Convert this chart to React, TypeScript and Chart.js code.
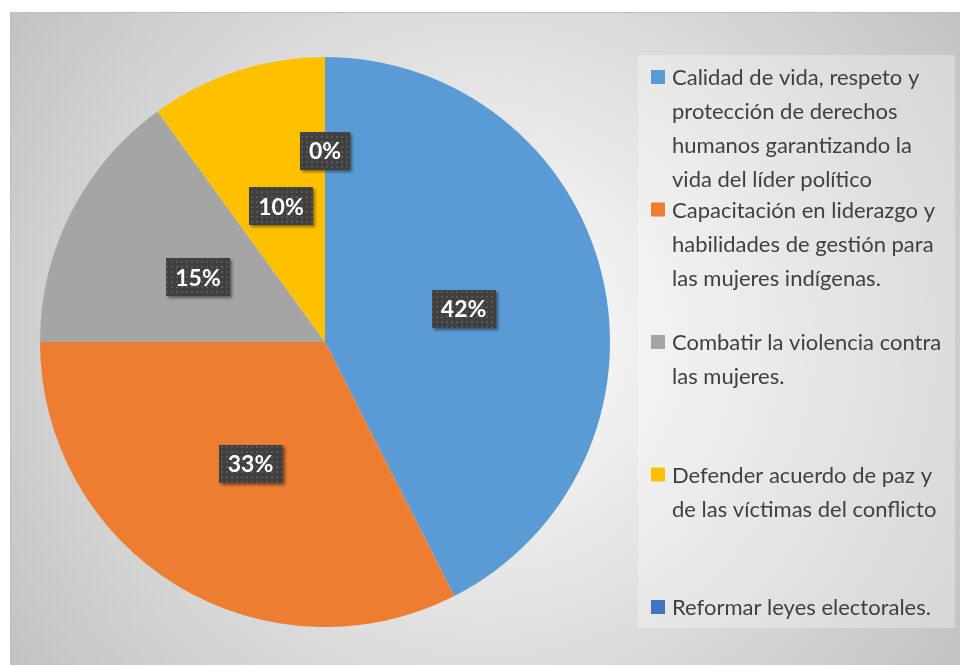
import React, { useEffect, useRef } from "react";
import { Chart, ArcElement, PieController } from "chart.js";

Chart.register(ArcElement, PieController);

const categories: string[][] = [
  ["Calidad de vida, respeto y", "protección de derechos", "humanos garantizando la", "vida del líder político"],
  ["Capacitación en liderazgo y", "habilidades de gestión para", "las mujeres indígenas."],
  ["Combatir la violencia contra", "las mujeres."],
  ["Defender acuerdo de paz y", "de las víctimas del conflicto"],
  ["Reformar leyes electorales."],
];
const values = [42.5, 32.5, 15, 10, 0];
const percentLabels = ["42%", "33%", "15%", "10%", "0%"];
const colors = ["#5B9BD5", "#ED7D31", "#A5A5A5", "#FFC000", "#4472C4"];

const W = 960;
const H = 665;
const FONT = "Lato, 'Open Sans', sans-serif";

function makePattern(ctx: CanvasRenderingContext2D) {
  const c = document.createElement("canvas");
  c.width = 5;
  c.height = 5;
  const p = c.getContext("2d")!;
  p.fillStyle = "#404040";
  p.fillRect(0, 0, 5, 5);
  p.fillStyle = "#575757";
  p.fillRect(1, 1, 2, 2);
  return ctx.createPattern(c, "repeat")!;
}

const backgroundPlugin = {
  id: "bg",
  beforeDraw(chart: any) {
    const ctx: CanvasRenderingContext2D = chart.ctx;
    ctx.save();
    ctx.fillStyle = "#ffffff";
    ctx.fillRect(0, 0, W, H);
    const x0 = 10, y0 = 12, x1 = W, y1 = H;
    const cx = (x0 + x1) / 2, cy = (y0 + y1) / 2;
    const g = ctx.createRadialGradient(cx, cy, 0, cx, cy, Math.hypot(cx - x0, cy - y0));
    g.addColorStop(0, "#ffffff");
    g.addColorStop(1, "#c2c2c2");
    ctx.fillStyle = g;
    ctx.fillRect(x0, y0, x1 - x0, y1 - y0);
    ctx.strokeStyle = "#bdbdbd";
    ctx.lineWidth = 1;
    ctx.beginPath();
    ctx.moveTo(x0, y0 + 0.5);
    ctx.lineTo(x1, y0 + 0.5);
    ctx.moveTo(x0 + 0.5, y0);
    ctx.lineTo(x0 + 0.5, y1);
    ctx.stroke();
    // legend panel
    ctx.fillStyle = "rgba(255,255,255,0.3)";
    ctx.fillRect(638, 55, 317, 573);
    ctx.restore();
  },
};

const labelPlugin = {
  id: "sliceLabels",
  afterDatasetsDraw(chart: any) {
    const ctx: CanvasRenderingContext2D = chart.ctx;
    const meta = chart.getDatasetMeta(0);
    const data: number[] = chart.data.datasets[0].data;
    const pattern = makePattern(ctx);
    ctx.save();
    ctx.font = `bold 23px ${FONT}`;
    ctx.textAlign = "center";
    ctx.textBaseline = "middle";
    meta.data.forEach((arc: any, i: number) => {
      const v = data[i];
      const mid = (arc.startAngle + arc.endAngle) / 2;
      const frac = v === 0 ? 0.67 : 0.5;
      const r = arc.outerRadius * frac;
      const x = arc.x + Math.cos(mid) * r;
      const y = arc.y + Math.sin(mid) * r;
      const text = percentLabels[i];
      const tw = ctx.measureText(text).width;
      const bw = tw + 18;
      const bh = 38;
      ctx.save();
      ctx.shadowColor = "rgba(0,0,0,0.45)";
      ctx.shadowOffsetX = 2;
      ctx.shadowOffsetY = 2;
      ctx.shadowBlur = 3;
      ctx.fillStyle = pattern;
      ctx.fillRect(Math.round(x - bw / 2), Math.round(y - bh / 2), Math.round(bw), bh);
      ctx.restore();
      ctx.fillStyle = "#ffffff";
      ctx.fillText(text, x, y + 1);
    });
    ctx.restore();
  },
};

const legendPlugin = {
  id: "customLegend",
  afterDraw(chart: any) {
    const ctx: CanvasRenderingContext2D = chart.ctx;
    const labels: string[][] = chart.data.labels;
    const bg: string[] = chart.data.datasets[0].backgroundColor;
    const top = 55, height = 573;
    const first = top + 22;
    const step = (height - 43) / (labels.length - 1);
    ctx.save();
    ctx.font = `22px ${FONT}`;
    ctx.textAlign = "left";
    ctx.textBaseline = "middle";
    labels.forEach((lines, i) => {
      const y = first + i * step;
      ctx.fillStyle = bg[i];
      ctx.fillRect(651, y - 7, 14, 14);
      ctx.fillStyle = "#404040";
      lines.forEach((ln, j) => {
        ctx.fillText(ln, 672, y + 1 + j * 34);
      });
    });
    ctx.restore();
  },
};

export default function App() {
  const ref = useRef<HTMLCanvasElement>(null);
  useEffect(() => {
    document.body.style.margin = "0";
    const chart = new Chart(ref.current!, {
      type: "pie",
      data: {
        labels: categories as any,
        datasets: [
          {
            data: values,
            backgroundColor: colors,
            borderWidth: 0,
          },
        ],
      },
      options: {
        animation: false,
        responsive: false,
        devicePixelRatio: 1,
        events: [],
        layout: { padding: { left: 40, right: 350, top: 56, bottom: 37 } },
        plugins: { legend: { display: false }, tooltip: { enabled: false } } as any,
      },
      plugins: [backgroundPlugin, labelPlugin, legendPlugin],
    });
    return () => chart.destroy();
  }, []);
  return (
    <div style={{ position: "absolute", left: 0, top: 0, width: W, height: H }}>
      <canvas ref={ref} width={W} height={H} style={{ width: W, height: H, display: "block" }} />
    </div>
  );
}
